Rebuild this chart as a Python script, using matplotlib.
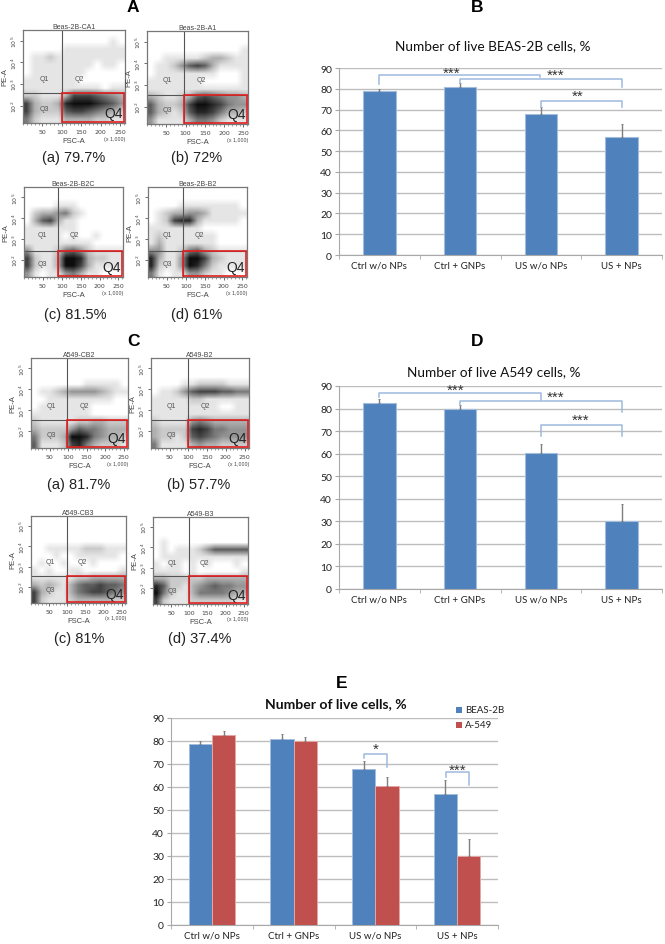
import matplotlib
matplotlib.use('Agg')
import matplotlib.pyplot as plt
import matplotlib.patches as patches
import numpy as np

W, H = 665, 945

# --- data ---
categories = ["Ctrl w/o NPs", "Ctrl + GNPs", "US w/o NPs", "US + NPs"]
y_ticks = [0, 10, 20, 30, 40, 50, 60, 70, 80, 90]

beas_values = [78.7, 81.0, 68.0, 57.0]
beas_errors = [1.4, 1.9, 3.4, 6.0]
a549_values = [82.5, 80.0, 60.5, 30.0]
a549_errors = [1.7, 1.7, 4.0, 7.5]

# bracket: x start, x end, top, left leg end, right leg end, stars, stars x, stars y
brackets_b = [
    (0, 1.99, 86.8, 82.3, 85.5, "***", 0.90, 87.6),
    (1, 3.00, 84.7, 83.0, 81.0, "***", 2.18, 86.6),
    (2, 3.00, 74.0, 71.0, 71.0, "**", 2.46, 76.6),
]
brackets_d = [
    (0, 2.00, 87.0, 85.0, 84.0, "***", 0.95, 88.2),
    (1, 3.00, 83.3, 81.4, 78.6, "***", 2.18, 85.2),
    (2, 3.00, 72.6, 67.8, 67.8, "***", 2.49, 75.2),
]
brackets_e = [
    (1.86, 2.14, 74.3, 72.4, 68.8, "*", 2.0, 76.7),
    (2.86, 3.14, 66.4, 64.3, 60.8, "***", 3.0, 67.7),
]

# flow panels: coarse ink density (0 white .. 9 black)
# 12 rows top to bottom, 13 columns along FSC-A
dens_a_a = [
    [0, 0, 0, 0, 0, 0, 0, 0, 0, 0, 0, 0, 0],
    [0, 0, 0, 0, 0, 0, 0, 0, 0, 0, 0, 1, 0],
    [0, 0, 0, 0, 0, 1, 1, 1, 1, 1, 1, 1, 1],
    [0, 1, 1, 2, 1, 1, 1, 1, 1, 1, 1, 1, 1],
    [0, 1, 1, 1, 1, 1, 1, 1, 1, 0, 1, 1, 0],
    [0, 1, 1, 1, 1, 1, 1, 1, 0, 0, 0, 0, 0],
    [1, 1, 1, 1, 1, 1, 1, 0, 0, 0, 0, 0, 0],
    [1, 1, 1, 1, 1, 1, 1, 1, 1, 1, 0, 1, 1],
    [2, 2, 1, 1, 1, 3, 7, 7, 7, 6, 5, 4, 3],
    [7, 3, 2, 2, 3, 8, 9, 9, 9, 8, 7, 6, 4],
    [7, 3, 2, 2, 2, 6, 7, 7, 6, 5, 4, 3, 2],
    [5, 2, 1, 1, 1, 3, 3, 3, 3, 2, 2, 1, 1],
]
dens_a_b = [
    [0, 0, 0, 0, 0, 0, 0, 0, 0, 0, 0, 0, 0],
    [0, 0, 0, 0, 0, 0, 0, 0, 0, 0, 0, 0, 0],
    [0, 0, 0, 0, 0, 0, 0, 0, 0, 0, 0, 0, 1],
    [0, 0, 1, 1, 1, 1, 1, 2, 3, 3, 2, 1, 1],
    [0, 1, 1, 2, 4, 6, 7, 6, 3, 1, 1, 1, 1],
    [0, 1, 1, 1, 1, 1, 1, 1, 1, 0, 0, 0, 1],
    [1, 1, 1, 1, 1, 1, 1, 0, 0, 0, 0, 0, 1],
    [1, 1, 1, 1, 1, 1, 1, 1, 1, 1, 1, 1, 1],
    [3, 2, 1, 1, 2, 3, 6, 7, 6, 5, 4, 4, 3],
    [6, 3, 2, 2, 3, 7, 9, 9, 8, 7, 5, 4, 4],
    [6, 3, 2, 1, 2, 6, 8, 8, 7, 5, 3, 3, 2],
    [4, 1, 1, 1, 1, 3, 5, 5, 4, 2, 1, 1, 1],
]
dens_a_c = [
    [0, 0, 0, 0, 0, 0, 0, 0, 0, 0, 0, 0, 0],
    [0, 0, 0, 0, 0, 0, 0, 0, 0, 0, 0, 0, 0],
    [0, 0, 0, 0, 1, 1, 1, 0, 0, 0, 0, 0, 0],
    [0, 2, 3, 3, 4, 5, 2, 1, 0, 0, 0, 0, 0],
    [0, 3, 6, 7, 3, 1, 1, 0, 0, 0, 0, 0, 0],
    [1, 1, 1, 1, 1, 1, 1, 0, 0, 0, 0, 0, 0],
    [1, 1, 1, 1, 1, 0, 1, 0, 0, 1, 0, 0, 0],
    [1, 1, 1, 1, 1, 1, 1, 1, 1, 0, 0, 0, 0],
    [4, 1, 1, 1, 2, 5, 6, 4, 2, 1, 1, 1, 1],
    [7, 2, 1, 1, 3, 9, 9, 8, 3, 2, 2, 1, 1],
    [7, 2, 1, 1, 3, 9, 9, 7, 3, 1, 1, 1, 1],
    [4, 1, 0, 1, 1, 4, 5, 3, 1, 1, 0, 0, 0],
]
dens_a_d = [
    [0, 0, 0, 0, 0, 0, 0, 0, 0, 0, 0, 0, 0],
    [0, 0, 0, 0, 0, 0, 0, 0, 0, 0, 0, 0, 0],
    [0, 0, 0, 0, 1, 1, 1, 1, 1, 1, 1, 1, 0],
    [0, 1, 2, 3, 3, 4, 4, 3, 1, 1, 1, 1, 1],
    [0, 1, 2, 7, 8, 8, 3, 1, 1, 1, 1, 1, 0],
    [1, 1, 1, 1, 1, 1, 1, 0, 0, 0, 0, 0, 0],
    [1, 2, 1, 1, 1, 1, 1, 1, 1, 0, 0, 0, 0],
    [1, 3, 1, 1, 1, 1, 1, 1, 1, 0, 0, 0, 0],
    [4, 4, 1, 1, 2, 5, 6, 3, 2, 1, 1, 1, 1],
    [8, 3, 1, 1, 4, 9, 9, 7, 3, 2, 1, 1, 1],
    [8, 2, 1, 1, 4, 9, 8, 5, 2, 1, 1, 1, 1],
    [5, 1, 0, 1, 1, 4, 4, 2, 1, 1, 0, 0, 0],
]
dens_c_a = [
    [0, 0, 0, 0, 0, 0, 0, 0, 0, 0, 0, 0, 0],
    [0, 0, 0, 0, 0, 0, 0, 0, 0, 0, 0, 0, 0],
    [0, 0, 0, 0, 0, 0, 0, 0, 0, 0, 0, 0, 0],
    [0, 0, 0, 0, 0, 0, 0, 1, 1, 1, 1, 1, 0],
    [0, 1, 1, 2, 3, 4, 4, 4, 4, 3, 2, 1, 1],
    [0, 0, 1, 1, 1, 1, 1, 1, 1, 1, 1, 0, 0],
    [0, 1, 1, 1, 1, 1, 1, 1, 0, 0, 0, 0, 0],
    [1, 1, 1, 1, 1, 1, 1, 1, 0, 0, 0, 0, 0],
    [2, 1, 1, 1, 1, 1, 2, 2, 3, 3, 2, 2, 2],
    [3, 2, 2, 2, 2, 4, 6, 5, 5, 4, 3, 3, 3],
    [5, 2, 2, 2, 3, 9, 9, 8, 5, 4, 3, 3, 2],
    [6, 1, 1, 1, 2, 7, 8, 5, 3, 2, 2, 2, 1],
]
dens_c_b = [
    [0, 0, 0, 0, 0, 0, 0, 0, 0, 0, 0, 0, 0],
    [0, 0, 0, 0, 0, 0, 0, 0, 0, 0, 0, 0, 0],
    [0, 0, 0, 0, 0, 0, 0, 0, 0, 0, 0, 0, 0],
    [0, 0, 0, 0, 1, 1, 2, 2, 2, 2, 1, 1, 1],
    [0, 1, 1, 2, 4, 6, 7, 7, 7, 6, 6, 5, 5],
    [1, 1, 1, 1, 1, 2, 2, 1, 1, 1, 1, 1, 1],
    [1, 1, 1, 1, 1, 1, 1, 1, 1, 0, 0, 1, 1],
    [1, 1, 1, 1, 1, 1, 1, 1, 1, 1, 1, 1, 1],
    [2, 1, 1, 1, 1, 4, 5, 4, 3, 3, 3, 3, 3],
    [3, 2, 2, 2, 2, 7, 8, 7, 5, 5, 4, 4, 4],
    [3, 2, 2, 1, 2, 6, 7, 6, 5, 4, 4, 4, 4],
    [5, 1, 1, 1, 1, 3, 4, 3, 3, 2, 2, 2, 2],
]
dens_c_c = [
    [0, 0, 0, 0, 0, 0, 0, 0, 0, 0, 0, 0, 0],
    [0, 0, 0, 0, 0, 0, 0, 0, 0, 0, 0, 0, 0],
    [0, 0, 0, 0, 0, 0, 0, 0, 0, 0, 0, 0, 0],
    [0, 0, 0, 0, 0, 0, 0, 0, 0, 0, 0, 0, 0],
    [0, 0, 1, 1, 1, 1, 1, 2, 2, 2, 1, 1, 1],
    [0, 0, 0, 1, 0, 0, 1, 1, 1, 1, 1, 1, 0],
    [0, 1, 0, 0, 1, 0, 0, 0, 1, 0, 0, 0, 0],
    [1, 0, 1, 0, 0, 1, 1, 0, 0, 0, 0, 0, 1],
    [1, 1, 1, 1, 1, 1, 2, 2, 3, 3, 3, 3, 3],
    [3, 2, 3, 2, 1, 3, 5, 6, 6, 7, 6, 6, 5],
    [7, 3, 2, 1, 1, 3, 5, 6, 7, 7, 6, 5, 4],
    [7, 2, 1, 1, 1, 2, 3, 3, 3, 3, 3, 2, 2],
]
dens_c_d = [
    [0, 0, 0, 0, 0, 0, 0, 0, 0, 0, 0, 0, 0],
    [0, 0, 0, 0, 0, 0, 0, 0, 0, 0, 0, 0, 0],
    [0, 0, 0, 0, 0, 0, 0, 0, 0, 0, 0, 0, 0],
    [0, 1, 0, 0, 0, 0, 0, 0, 0, 0, 0, 0, 0],
    [0, 1, 0, 1, 1, 1, 2, 4, 6, 6, 6, 6, 6],
    [0, 1, 1, 1, 1, 1, 1, 1, 1, 1, 1, 1, 1],
    [1, 0, 1, 1, 0, 1, 0, 1, 0, 0, 0, 1, 0],
    [1, 1, 1, 1, 0, 1, 0, 0, 0, 0, 0, 0, 1],
    [3, 3, 2, 2, 2, 2, 2, 3, 3, 3, 3, 3, 3],
    [8, 6, 2, 2, 1, 3, 4, 5, 6, 5, 5, 4, 4],
    [9, 5, 2, 1, 1, 3, 5, 5, 5, 5, 4, 3, 3],
    [7, 2, 1, 1, 1, 2, 2, 2, 2, 2, 2, 1, 1],
]

flow_titles = ["Beas-2B-CA1", "Beas-2B-A1", "Beas-2B-B2C", "Beas-2B-B2",
               "A549-CB2", "A549-B2", "A549-CB3", "A549-B3"]
flow_captions = ["(a) 79.7%", "(b) 72%", "(c) 81.5%", "(d) 61%",
                 "(a) 81.7%", "(b) 57.7%", "(c) 81%", "(d) 37.4%"]
flow_grids = [dens_a_a, dens_a_b, dens_a_c, dens_a_d,
              dens_c_a, dens_c_b, dens_c_c, dens_c_d]
gate_fsc = [100, 97, 89, 92, 98, 100, 98, 98]
gate_pe = [2.58, 2.55, 2.46, 2.46, 2.54, 2.54, 2.55, 2.58]

# pixel boxes (left, top, right, bottom)
flow_boxes = [(23, 31, 125, 124), (147, 32, 248, 125), (24, 188, 123, 278), (148, 188, 247, 278),
              (31, 359, 128, 449), (151, 359, 249, 449), (31, 517, 126, 604), (153, 518, 248, 605)]
caption_xy = [(74, 158), (197, 158), (75, 315), (197, 315),
              (79, 485), (199, 485), (79, 639), (200, 639)]

BLUE = '#4F81BD'
RED = '#C0504D'
BRACKET = '#9DB9DF'
GRID = '#BDBDBD'
TXT = '#222222'
FONT = ['Lato', 'DejaVu Sans']
ARIAL = ['Liberation Sans', 'DejaVu Sans']

fig = plt.figure(figsize=(W / 100, H / 100), dpi=100, facecolor='white')


def px_axes(left, top, right, bottom):
    return fig.add_axes([left / W, 1 - bottom / H, (right - left) / W, (bottom - top) / H])


# overlay for captions and panel letters, in pixels
page = fig.add_axes([0, 0, 1, 1], zorder=10)
page.set_xlim(0, W)
page.set_ylim(H, 0)
page.axis('off')


def draw_flow(box, grid, title, gx, gy):
    ax = px_axes(*box)
    ax.imshow(np.array(grid), cmap='gray_r', vmin=0, vmax=9.5, aspect='auto',
              extent=(0, 262, 1.2, 5.5), interpolation='bilinear', origin='upper')
    ax.set_xlim(0, 262)
    ax.set_ylim(1.2, 5.5)
    for s in ax.spines.values():
        s.set_color('#777777')
        s.set_linewidth(0.9)
    ax.plot([gx, gx], [1.2, 5.5], color='#555555', lw=0.8)
    ax.plot([0, 262], [gy, gy], color='#555555', lw=0.8)
    # Q4 gate
    ax.add_patch(patches.Rectangle((gx, 1.24), 260 - gx, gy - 1.24, fill=False,
                                   edgecolor='#E02020', lw=1.2, zorder=5))
    ax.set_xticks([50, 100, 150, 200, 250])
    ax.set_xticks(np.arange(0, 262, 10), minor=True)
    ax.set_yticks([2, 3, 4, 5])
    ax.set_yticklabels(['$10^2$', '$10^3$', '$10^4$', '$10^5$'], rotation=90, va='center')
    ax.tick_params(axis='both', which='major', length=2.5, width=0.6, color='#555555',
                   labelsize=4.5, labelcolor='#444444', pad=2)
    ax.tick_params(axis='y', pad=0.5)
    ax.tick_params(axis='x', which='minor', length=1.5, width=0.4, color='#555555')
    ax.set_title(title, fontsize=5, color='#444444', pad=1.5, family=ARIAL)
    ax.set_xlabel('FSC-A', fontsize=5.5, color='#444444', labelpad=2, family=ARIAL)
    ax.set_ylabel('PE-A', fontsize=5.5, color='#444444', labelpad=1, family=ARIAL)
    ax.text(262, -0.17, '(x 1,000)', transform=ax.get_xaxis_transform(), ha='right',
            va='center', fontsize=3.8, color='#444444', family=ARIAL)
    ax.text(gx * 0.55, 3.25, 'Q1', fontsize=5, color='#555555', ha='center', va='center', family=ARIAL)
    ax.text(gx + 45, 3.25, 'Q2', fontsize=5, color='#555555', ha='center', va='center', family=ARIAL)
    ax.text(gx * 0.55, 1.85, 'Q3', fontsize=5, color='#555555', ha='center', va='center', family=ARIAL)
    ax.text(256, 1.32, 'Q4', fontsize=10, color='#222222', ha='right', va='bottom', family=ARIAL)


def style_bars(ax):
    ax.set_ylim(0, 90)
    ax.set_xlim(-0.5, 3.5)
    ax.set_yticks(y_ticks)
    ax.set_xticks(range(4))
    ax.set_xticklabels(categories, family=FONT, fontsize=7, color=TXT)
    ax.set_xticks([-0.5, 0.5, 1.5, 2.5, 3.5], minor=True)
    ax.grid(axis='y', color=GRID, lw=1.0, zorder=0)
    ax.set_axisbelow(True)
    for side in ['top', 'right']:
        ax.spines[side].set_visible(False)
    for side in ['left', 'bottom']:
        ax.spines[side].set_color('#A8A8A8')
    ax.tick_params(axis='y', length=3, color='#A8A8A8', labelsize=7.5, labelcolor=TXT, pad=2)
    ax.tick_params(axis='x', which='major', length=0, pad=4)
    ax.tick_params(axis='x', which='minor', length=3, color='#A8A8A8')
    for lab in ax.get_yticklabels():
        lab.set_family(FONT)


def draw_brackets(ax, items):
    for x0, x1, top, left_end, right_end, stars, sx, sy in items:
        ax.plot([x0, x0, x1, x1], [left_end, top, top, right_end], color=BRACKET, lw=1.1, zorder=6,
                clip_on=False)
        ax.text(sx, sy, stars, ha='center', va='center', fontsize=11, color='#333333',
                family=ARIAL, zorder=7)


def draw_single(box, values, errors, title, title_xy, items):
    ax = px_axes(*box)
    x = np.arange(4)
    ax.bar(x, values, width=0.4, color=BLUE, edgecolor='#A3BDDD', lw=0.8, zorder=3)
    ax.errorbar(x, values, yerr=[np.zeros(4), errors], fmt='none', ecolor='#7F7F7F', elinewidth=1,
                capsize=1, capthick=0.7, zorder=4)
    style_bars(ax)
    draw_brackets(ax, items)
    page.text(title_xy[0], title_xy[1], title, ha='center', va='center', fontsize=9.8, color='#111111',
              family=FONT)


for i in range(8):
    draw_flow(flow_boxes[i], flow_grids[i], flow_titles[i], gate_fsc[i], gate_pe[i])
    page.text(caption_xy[i][0], caption_xy[i][1], flow_captions[i], ha='center', va='center',
              fontsize=10.5, color='#222222', family=ARIAL)

draw_single((339, 69, 662, 256), beas_values, beas_errors, "Number of live BEAS-2B cells, %", (493, 46), brackets_b)
draw_single((339, 387, 662, 590), a549_values, a549_errors, "Number of live A549 cells, %", (494, 372), brackets_d)

# --- E: both lines side by side ---
ax_e = px_axes(171, 719, 498, 926)
xe = np.arange(4)
bw = 0.285
ax_e.bar(xe - bw / 2, beas_values, width=bw, color=BLUE, edgecolor='#A3BDDD', lw=0.7, zorder=3)
ax_e.bar(xe + bw / 2, a549_values, width=bw, color=RED, edgecolor='#E3A6A4', lw=0.7, zorder=3)
ax_e.errorbar(xe - bw / 2, beas_values, yerr=[np.zeros(4), beas_errors], fmt='none', ecolor='#7F7F7F',
              elinewidth=1, capsize=1, capthick=0.7, zorder=4)
ax_e.errorbar(xe + bw / 2, a549_values, yerr=[np.zeros(4), a549_errors], fmt='none', ecolor='#7F7F7F',
              elinewidth=1, capsize=1, capthick=0.7, zorder=4)
style_bars(ax_e)
draw_brackets(ax_e, brackets_e)
page.text(336, 704, "Number of live cells, %", ha='center', va='center', fontsize=10.1, fontweight='bold',
          color='#111111', family=FONT)

# legend
page.add_patch(patches.Rectangle((456, 707.5), 6, 6, facecolor=BLUE, edgecolor='none'))
page.add_patch(patches.Rectangle((456, 723), 6, 6, facecolor=RED, edgecolor='none'))
page.text(465, 710.5, "BEAS-2B", va='center', fontsize=7, color=TXT, family=FONT)
page.text(465, 726, "A-549", va='center', fontsize=7, color=TXT, family=FONT)

# panel letters
for letter, lx, ly in [("A", 133, 8), ("B", 477, 8), ("C", 133, 341), ("D", 477, 342), ("E", 342, 683)]:
    page.text(lx, ly, letter, ha='center', va='center', fontsize=12.5, fontweight='bold',
              color='black', family=ARIAL)

fig.savefig('out.png', dpi=100)
